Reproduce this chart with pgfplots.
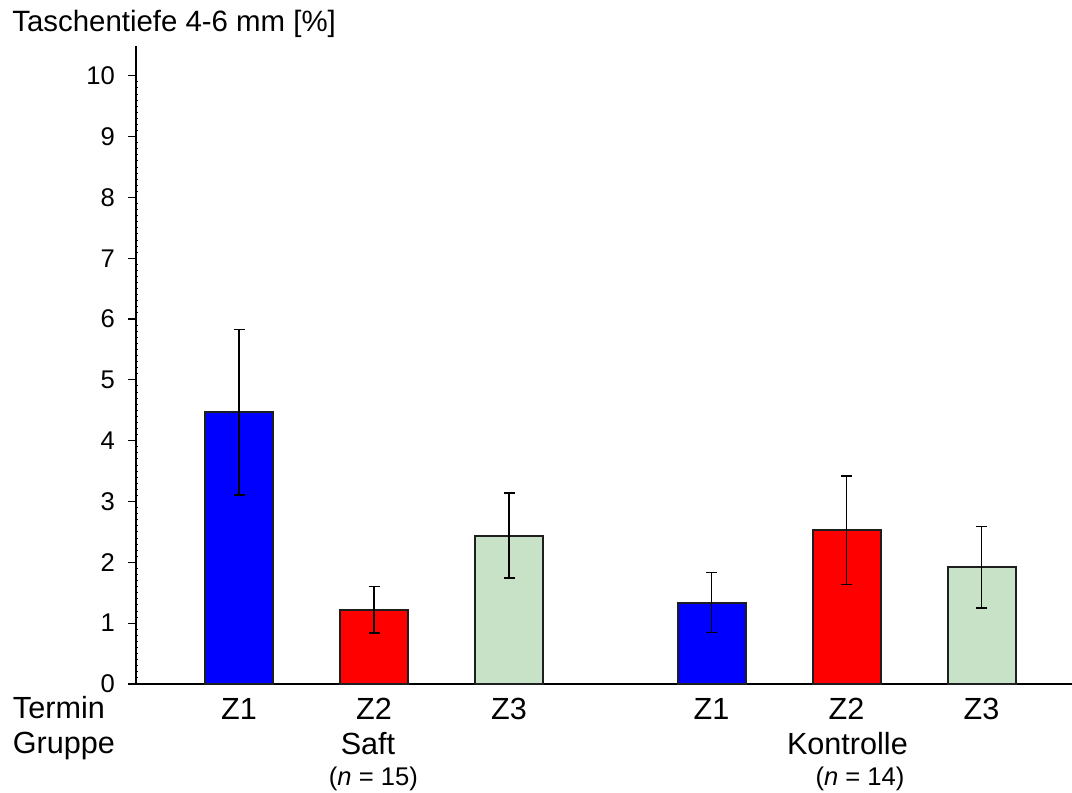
\documentclass[border=0pt]{standalone}
\usepackage{pgfplots}
\pgfplotsset{compat=1.18}
\usepackage{fontspec}
\setmainfont{Liberation Sans}
\definecolor{barblue}{RGB}{0,0,255}
\definecolor{barred}{RGB}{255,0,0}
\definecolor{bargreen}{RGB}{200,226,200}
\definecolor{edge}{RGB}{30,30,30}
\begin{document}
\begin{tikzpicture}
\useasboundingbox (-68pt,-54.5pt) rectangle (468pt,342pt);
\begin{axis}[
  scale only axis,
  width=468pt, height=319pt,
  xmin=-0.763, xmax=6.17,
  ymin=0, ymax=10.49,
  axis lines=left,
  axis line style={-, line width=0.8pt},
  clip=false,
  ytick={0,1,...,10},
  minor y tick num=9,
  tick align=outside,
  major tick length=4pt,
  minor tick length=-1pt,
  tick style={black, line width=0.6pt},
  minor tick style={line width=0.5pt},
  /pgf/number format/assume math mode=true,
  yticklabel style={font=\fontsize{12.8}{14}\selectfont, anchor=east, xshift=-3pt},
  xtick={0,1,2,3.5,4.5,5.5},
  xticklabels={Z1,Z2,Z3,Z1,Z2,Z3},
  x tick style={draw=none},
  xticklabel style={font=\fontsize{15.3}{17}\selectfont, anchor=base, yshift=-13.5pt},
  ybar,
  bar width=34pt,
  bar shift=0pt,
]
\addplot[fill=barblue, draw=edge, line width=1pt,
  error bars/.cd, y dir=both, y explicit,
  error bar style={black, line width=0.75pt},
  error mark options={rotate=90, mark size=2.75pt, line width=0.75pt, black}]
  coordinates {(0,4.47) +- (0,1.36) (3.5,1.34) +- (0,0.49)};
\addplot[fill=barred, draw=edge, line width=1pt,
  error bars/.cd, y dir=both, y explicit,
  error bar style={black, line width=0.75pt},
  error mark options={rotate=90, mark size=2.75pt, line width=0.75pt, black}]
  coordinates {(1,1.22) +- (0,0.38) (4.5,2.53) +- (0,0.89)};
\addplot[fill=bargreen, draw=edge, line width=1pt,
  error bars/.cd, y dir=both, y explicit,
  error bar style={black, line width=0.75pt},
  error mark options={rotate=90, mark size=2.75pt, line width=0.75pt, black}]
  coordinates {(2,2.44) +- (0,0.70) (5.5,1.92) +- (0,0.67)};
\end{axis}
\begin{scope}[every node/.style={inner sep=0pt, font=\fontsize{15.3}{17}\selectfont}]
\node[anchor=base west, font=\fontsize{14.7}{16}\selectfont] at (-62pt,326pt) {Taschentiefe 4-6 mm [\%]};
\node[anchor=base west] at (-61.7pt,-17.5pt) {Termin};
\node[anchor=base west] at (-61.8pt,-35pt) {Gruppe};
\node[anchor=base] at (116pt,-35.5pt) {Saft};
\node[anchor=base] at (355.7pt,-35.5pt) {Kontrolle};
\node[anchor=base, font=\fontsize{12.8}{14}\selectfont] at (118.7pt,-51pt) {(\textit{n} = 15)};
\node[anchor=base, font=\fontsize{12.8}{14}\selectfont] at (362pt,-51pt) {(\textit{n} = 14)};
\end{scope}
\end{tikzpicture}
\end{document}
